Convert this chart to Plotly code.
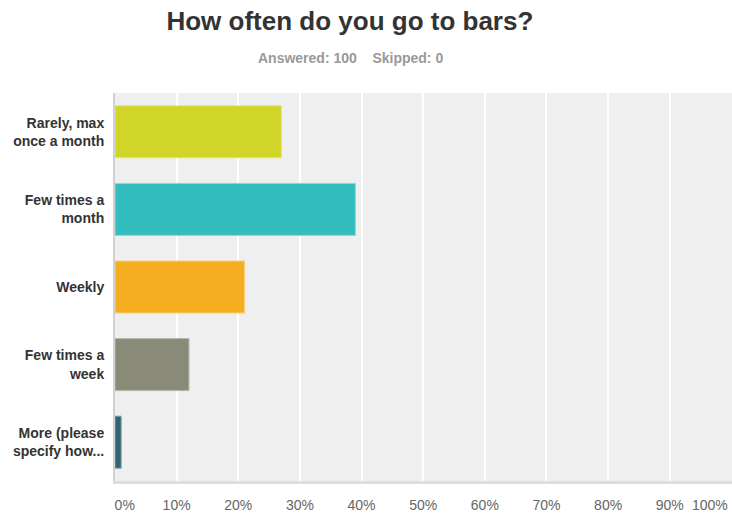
import plotly.graph_objects as go

categories = ["Rarely, max<br>once a month", "Few times a<br>month", "Weekly",
              "Few times a<br>week", "More (please<br>specify how..."]
values = [27, 39, 21, 12, 1]
colors = ["#D0D527", "#33BDBE", "#F6AE21", "#8A8A79", "#2F6672"]
edge_colors = ["#E3E77A", "#8AD8D9", "#F9CD7A", "#B5B5A8", "#7FA3AA"]
tick_vals = [0, 10, 20, 30, 40, 50, 60, 70, 80, 90, 100]
tick_text = ["0%", "10%", "20%", "30%", "40%", "50%", "60%",
             "70%", "80%", "90%", "100%"]

# the first label sits right of its gridline, the last one ends at the chart edge
shown_text = ["&nbsp;&nbsp;&nbsp;&nbsp;&nbsp;" + tick_text[0]] + tick_text[1:-1] + [""]

fig = go.Figure(go.Bar(
    x=values, y=categories, orientation="h",
    marker=dict(color=colors, line=dict(color=edge_colors, width=1)),
    width=0.67, hoverinfo="x+y",
))

fig.update_layout(
    width=732, height=513,
    margin=dict(l=115, r=0, t=93, b=32, autoexpand=False),
    paper_bgcolor="white", plot_bgcolor="#EFEFEF",
    font=dict(family="Liberation Sans, Arial, sans-serif"),
    showlegend=False,
    title=dict(text="<b>How often do you go to bars?</b>", x=0.478, xanchor="center",
               y=0.96, yanchor="middle", font=dict(size=26, color="#333333")),
    annotations=[
        dict(text="<b>Answered: 100&nbsp;&nbsp;&nbsp;&nbsp;Skipped: 0</b>",
             xref="paper", yref="paper", x=(350-115)/617, y=1 + 35/388,
             xanchor="center", yanchor="middle", showarrow=False,
             font=dict(size=14, color="#999999")),
        dict(text=tick_text[-1], xref="x", yref="paper", x=tick_vals[-1], y=-24/388,
             xanchor="right", yanchor="middle", showarrow=False, xshift=-1,
             font=dict(size=14, color="#666666")),
    ],
)

fig.update_xaxes(range=[0, 100.1], tickvals=tick_vals, ticktext=shown_text,
                 showgrid=True, gridcolor="white", gridwidth=1.5,
                 zeroline=False, showline=True, linecolor="#DDDDDD", linewidth=3,
                 ticklabelstandoff=9, ticklabeloverflow="allow",
                 tickfont=dict(size=14, color="#666666"),
                 automargin=False, fixedrange=True)
fig.update_yaxes(autorange="reversed", showgrid=False, zeroline=False,
                 showline=True, linecolor="#D0D0D0", linewidth=2,
                 ticklabelstandoff=6, tickfont=dict(size=14, color="#333333"),
                 automargin=False, fixedrange=True)

# bold category labels
fig.update_yaxes(tickvals=categories, ticktext=["<b>" + c + "</b>" for c in categories])

fig.write_html("out.html", config={"displayModeBar": False},
               post_script="document.body.style.margin='0';document.body.style.overflow='hidden';")
